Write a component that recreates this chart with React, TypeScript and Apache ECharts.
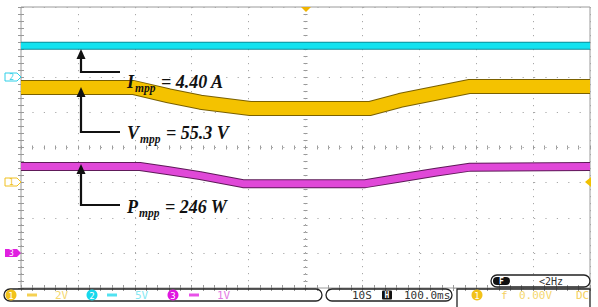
import React, { useEffect, useRef } from "react";
import * as echarts from "echarts";

// Screen: 10 horizontal divisions x 8 vertical divisions (values in divisions from bottom-left)
const xDivs = 10;
const yDivs = 8;

// CH2 current trace (I_mpp)
const currentX = [0, 10];
const currentY = [6.9, 6.9];

// CH1 voltage trace (V_mpp)
const voltageX = [0, 1.97, 2.6, 3.15, 4.03, 6.13, 6.66, 7.3, 7.89, 10];
const voltageY = [5.71, 5.71, 5.47, 5.29, 5.11, 5.11, 5.34, 5.55, 5.74, 5.74];

// CH3 power trace (P_mpp)
const powerX = [0, 2.09, 2.6, 3.15, 3.9, 6.05, 6.66, 7.3, 7.89, 10];
const powerY = [3.46, 3.46, 3.34, 3.2, 2.97, 2.97, 3.13, 3.3, 3.44, 3.46];

const annotations = [
  { sym: "I", sub: "mpp", value: "4.40 A" },
  { sym: "V", sub: "mpp", value: "55.3 V" },
  { sym: "P", sub: "mpp", value: "246 W" },
];

const channelScales = ["2V", "5V", "1V"];
const timebase = ["10S", "100.0ms"];
const triggerInfo = ["f", "0.00V", "DC", "<2Hz"];

const pair = (xs: number[], ys: number[]) => xs.map((x, i) => [x, ys[i]]);

const G = { left: 21, right: 8, top: 7, bottom: 19 };
const mono = "DejaVu Sans Mono";
const serif = "Liberation Serif";

export default function App() {
  const ref = useRef<HTMLDivElement>(null);
  useEffect(() => {
    if (!ref.current) return;
    const chart = echarts.init(ref.current, undefined, { renderer: "svg" });

    const hidden = {
      axisLabel: { show: false },
      splitLine: { show: false },
    };
    const tickAxis = (extra: any) => ({
      type: "value",
      interval: 0.2,
      axisLine: { show: false },
      axisTick: { show: true, inside: true, length: 3, lineStyle: { color: "#999", width: 1 } },
      ...hidden,
      ...extra,
    });
    const centerAxis = (extra: any) => ({
      type: "value",
      interval: 0.2,
      axisLine: { show: true, onZero: true, lineStyle: { opacity: 0 } },
      axisTick: { show: true, inside: false, length: 2, lineStyle: { color: "#999", width: 1 } },
      ...hidden,
      ...extra,
    });

    const traceSeries = (xs: number[], ys: number[], color: string, edge: string, w: number) => [
      {
        type: "line",
        xAxisIndex: 0,
        yAxisIndex: 0,
        data: pair(xs, ys),
        symbol: "none",
        silent: true,
        lineStyle: { color: edge, width: w + 2, cap: "butt", join: "round" },
        z: 3,
      },
      {
        type: "line",
        xAxisIndex: 0,
        yAxisIndex: 0,
        data: pair(xs, ys),
        symbol: "none",
        silent: true,
        lineStyle: { color, width: w, cap: "butt", join: "round" },
        z: 4,
      },
    ];

    const arrowDefs = [
      { lineY: 72, tipY: 49, textY: 82 },
      { lineY: 132, tipY: 87, textY: 133 },
      { lineY: 205, tipY: 164, textY: 207 },
    ];
    const arrowX = 81;
    const graphics: any[] = [];
    arrowDefs.forEach((a, i) => {
      graphics.push({
        type: "polyline",
        shape: { points: [[120, a.lineY], [arrowX, a.lineY], [arrowX, a.tipY + 9]] },
        style: { stroke: "#111", lineWidth: 2.2, fill: null },
        z: 20,
      });
      graphics.push({
        type: "polygon",
        shape: { points: [[arrowX - 4.5, a.tipY + 10], [arrowX + 4.5, a.tipY + 10], [arrowX, a.tipY]] },
        style: { fill: "#111" },
        z: 20,
      });
      const an = annotations[i];
      graphics.push({
        type: "text",
        x: 127,
        y: a.textY,
        z: 20,
        style: {
          text: `{m|${an.sym}}{s|${an.sub}}{m| = ${an.value}}`,
          verticalAlign: "middle",
          rich: {
            m: { fontSize: 18, fontFamily: serif, fontStyle: "italic", fontWeight: "bold", fill: "#111", lineHeight: 20 },
            s: { fontSize: 11.5, fontFamily: serif, fontStyle: "italic", fontWeight: "bold", fill: "#111", lineHeight: 12, padding: [12, 1, 0, 1] },
          },
        },
      });
    });

    // left channel markers
    const marker = (y: number, color: string, label: string, filled: boolean) => [
      {
        type: "polygon",
        shape: { points: [[5, y - 4], [17, y - 4], [21, y], [17, y + 4], [5, y + 4]] },
        style: filled ? { fill: color } : { fill: "#fff", stroke: color, lineWidth: 1 },
        z: 15,
      },
      {
        type: "text",
        x: 11.5,
        y,
        z: 16,
        style: { text: label, fontSize: 8, fontFamily: mono, fill: filled ? "#fff" : color, align: "center", verticalAlign: "middle" },
      },
    ];
    graphics.push(...marker(77, "#2fd0e8", "2", false));
    graphics.push(...marker(182, "#f0c020", "1", false));
    graphics.push(...marker(253, "#e020e0", "3", true));

    // trigger position / level markers
    graphics.push({ type: "polygon", shape: { points: [[301, 7], [311, 7], [306, 12]] }, style: { fill: "#f0b400" }, z: 15 });
    graphics.push({ type: "polygon", shape: { points: [[591, 177], [591, 187], [585, 182]] }, style: { fill: "#f0c000" }, z: 15 });

    // status bar
    const boxStyle = { fill: null, stroke: "#222", lineWidth: 1.3 };
    graphics.push({ type: "rect", shape: { x: 4, y: 289, width: 318, height: 12, r: 6 }, style: boxStyle, z: 10 });
    graphics.push({ type: "rect", shape: { x: 326, y: 289, width: 126, height: 12, r: 6 }, style: boxStyle, z: 10 });
    graphics.push({ type: "polyline", shape: { points: [[457, 307], [457, 289], [590, 289], [590, 307]] }, style: { fill: null, stroke: "#222", lineWidth: 1.3 }, z: 10 });
    graphics.push({ type: "rect", shape: { x: 491, y: 275, width: 99, height: 12, r: 6 }, style: boxStyle, z: 10 });

    const chDefs = [
      { cx: 11, color: "#f2c21a", text: "#f5d870", label: "1", bar: 27, val: 55 },
      { cx: 92, color: "#18d8ec", text: "#86e8f2", label: "2", bar: 107, val: 135 },
      { cx: 173, color: "#e018e0", text: "#e37de3", label: "3", bar: 189, val: 217 },
    ];
    chDefs.forEach((c, i) => {
      graphics.push({ type: "circle", shape: { cx: c.cx, cy: 295, r: 5.5 }, style: { fill: c.color }, z: 11 });
      graphics.push({ type: "text", x: c.cx, y: 295.5, z: 12, style: { text: c.label, fontSize: 9, fontFamily: mono, fill: "#fff", align: "center", verticalAlign: "middle" } });
      graphics.push({ type: "rect", shape: { x: c.bar, y: 293.5, width: 10, height: 3 }, style: { fill: c.color, opacity: 0.75 }, z: 11 });
      graphics.push({ type: "text", x: c.val, y: 295.5, z: 12, style: { text: channelScales[i], fontSize: 11, fontFamily: mono, fill: c.text, verticalAlign: "middle" } });
    });

    graphics.push({ type: "text", x: 352, y: 295.5, z: 12, style: { text: timebase[0], fontSize: 11, fontFamily: mono, fill: "#333", verticalAlign: "middle" } });
    graphics.push({ type: "rect", shape: { x: 382, y: 290.5, width: 10, height: 9, r: 1 }, style: { fill: "#111" }, z: 11 });
    graphics.push({ type: "text", x: 387, y: 295.5, z: 12, style: { text: "H", fontSize: 8, fontFamily: mono, fontWeight: "bold", fill: "#fff", align: "center", verticalAlign: "middle" } });
    graphics.push({ type: "text", x: 404, y: 295.5, z: 12, style: { text: timebase[1], fontSize: 11, fontFamily: mono, fill: "#333", verticalAlign: "middle" } });

    graphics.push({ type: "circle", shape: { cx: 477, cy: 295, r: 5.5 }, style: { fill: "#f2c21a" }, z: 11 });
    graphics.push({ type: "text", x: 477, y: 295.5, z: 12, style: { text: "1", fontSize: 9, fontFamily: mono, fill: "#fff", align: "center", verticalAlign: "middle" } });
    graphics.push({ type: "text", x: 501, y: 295.5, z: 12, style: { text: triggerInfo[0], fontSize: 11, fontFamily: mono, fill: "#f5d060", verticalAlign: "middle" } });
    graphics.push({ type: "text", x: 519, y: 295.5, z: 12, style: { text: triggerInfo[1], fontSize: 11, fontFamily: mono, fill: "#f5d870", verticalAlign: "middle" } });
    graphics.push({ type: "text", x: 576, y: 295.5, z: 12, style: { text: triggerInfo[2], fontSize: 11, fontFamily: mono, fill: "#f5d060", verticalAlign: "middle" } });

    graphics.push({ type: "rect", shape: { x: 493, y: 277, width: 17, height: 8, r: 4 }, style: { fill: "#111" }, z: 11 });
    graphics.push({ type: "text", x: 501.5, y: 281.5, z: 12, style: { text: "F", fontSize: 8, fontFamily: mono, fontWeight: "bold", fill: "#fff", align: "center", verticalAlign: "middle" } });
    graphics.push({ type: "text", x: 539, y: 281.5, z: 12, style: { text: triggerInfo[3], fontSize: 10, fontFamily: mono, fill: "#333", verticalAlign: "middle" } });

    const grid = { ...G, containLabel: false };
    const option: any = {
      animation: false,
      backgroundColor: "#ffffff",
      grid: [
        { ...grid, show: true, borderColor: "#9a9a9a", borderWidth: 1, backgroundColor: "transparent" },
        { ...grid },
        { ...grid },
      ],
      xAxis: [
        {
          type: "value", gridIndex: 0, min: 0, max: xDivs, interval: 1,
          axisLine: { show: false }, axisTick: { show: false }, axisLabel: { show: false },
          splitLine: { show: true, lineStyle: { color: "#a8a8a8", width: 1, type: [1.2, 5.8] } },
        },
        tickAxis({ gridIndex: 1, min: 0, max: xDivs, position: "top" }),
        tickAxis({ gridIndex: 1, min: 0, max: xDivs, position: "bottom" }),
        centerAxis({ gridIndex: 2, min: -xDivs / 2, max: xDivs / 2, position: "bottom" }),
        centerAxis({ gridIndex: 2, min: -xDivs / 2, max: xDivs / 2, position: "top" }),
      ],
      yAxis: [
        {
          type: "value", gridIndex: 0, min: 0, max: yDivs, interval: 1,
          axisLine: { show: false }, axisTick: { show: false }, axisLabel: { show: false },
          splitLine: { show: true, lineStyle: { color: "#a8a8a8", width: 1, type: [1.2, 10.2] } },
        },
        tickAxis({ gridIndex: 1, min: 0, max: yDivs, position: "left" }),
        tickAxis({ gridIndex: 1, min: 0, max: yDivs, position: "right" }),
        centerAxis({ gridIndex: 2, min: -yDivs / 2, max: yDivs / 2, position: "left" }),
        centerAxis({ gridIndex: 2, min: -yDivs / 2, max: yDivs / 2, position: "right" }),
      ],
      series: [
        ...traceSeries(currentX, currentY, "#12e2f0", "#0e8c9a", 6),
        ...traceSeries(voltageX, voltageY, "#f4c200", "#7a6000", 13),
        ...traceSeries(powerX, powerY, "#e048d8", "#5e1a58", 7),
        { type: "line", xAxisIndex: 1, yAxisIndex: 1, data: [], silent: true },
        { type: "line", xAxisIndex: 3, yAxisIndex: 3, data: [], silent: true },
      ],
      graphic: graphics,
    };
    chart.setOption(option);
    return () => chart.dispose();
  }, []);

  return (
    <div style={{ position: "fixed", left: 0, top: 0, width: 598, height: 307, background: "#fff" }}>
      <div ref={ref} style={{ width: 598, height: 307 }} />
    </div>
  );
}
